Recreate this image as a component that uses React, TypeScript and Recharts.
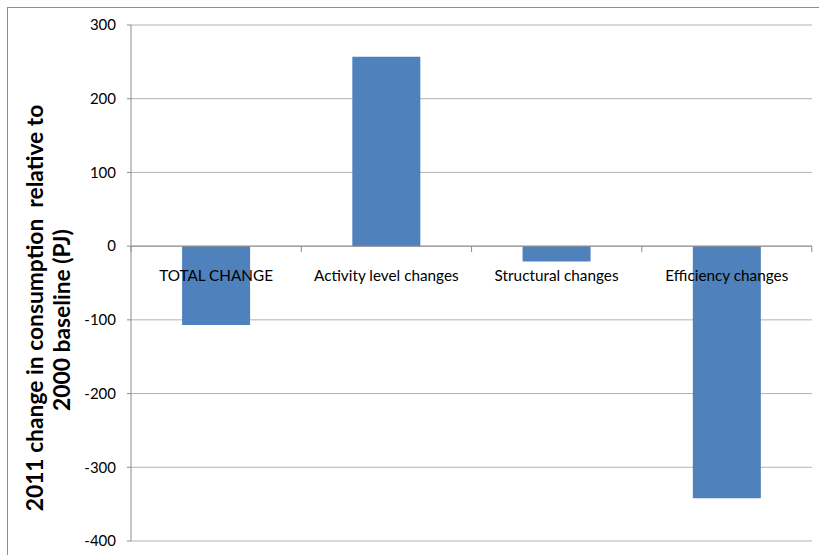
import React from "react";
import {
  Bar,
  BarChart,
  CartesianGrid,
  LabelList,
  ReferenceLine,
  XAxis,
  YAxis
} from "recharts";

const categories = [
  "TOTAL CHANGE",
  "Activity level changes",
  "Structural changes",
  "Efficiency changes"
];
const changes = [-107, 257, -21, -342];
const yTicks = [-400, -300, -200, -100, 0, 100, 200, 300];
const yLabelLines = ["2011 change in consumption  relative to", "2000 baseline (PJ)"];

const FONT = "Lato, 'Open Sans', sans-serif";
const GAP = 0.3;

const data = categories.map((name, i) => ({ name, value: changes[i] }));

// category names sit just under the zero line, with tick marks on band edges
const CategoryLabel = (props: any) => {
  const vb = props.viewBox || props;
  const { x, y, width, height } = vb;
  const cx = x + width / 2;
  const zeroY = y + height;
  const band = width / (1 - 2 * GAP);
  const last = props.index === categories.length - 1;
  return (
    <g>
      <line x1={cx - band / 2} x2={cx - band / 2} y1={zeroY} y2={zeroY + 6} stroke="#8c8c8c" />
      {last && (
        <line x1={cx + band / 2} x2={cx + band / 2} y1={zeroY} y2={zeroY + 6} stroke="#8c8c8c" />
      )}
      <text
        x={cx}
        y={zeroY + 35}
        textAnchor="middle"
        fontFamily={FONT}
        fontSize={15.3}
        fill="#000"
      >
        {props.value}
      </text>
    </g>
  );
};

const YTitle = () => (
  <g fontFamily={FONT} fontWeight="bold" fontSize={22.8} fill="#000">
    <text transform="translate(43, 308) rotate(-90)" textAnchor="middle" xmlSpace="preserve">
      {yLabelLines[0]}
    </text>
    <text transform="translate(70, 320) rotate(-90)" textAnchor="middle">
      {yLabelLines[1]}
    </text>
  </g>
);

const App = () => {
  return (
    <div
      style={{
        position: "absolute",
        left: 0,
        top: 0,
        width: 819,
        height: 555,
        overflow: "hidden",
        background: "#fff"
      }}
    >
      <div
        style={{
          position: "absolute",
          left: 7,
          top: 7,
          width: 830,
          height: 560,
          borderLeft: "1px solid #8e8e8e",
          borderTop: "1px solid #8e8e8e"
        }}
      />
      <div style={{ position: "absolute", left: 0, top: 0 }}>
        <BarChart
          width={819}
          height={555}
          data={data}
          margin={{ top: 25, right: 7, bottom: 14, left: 0 }}
          barCategoryGap={`${GAP * 100}%`}
        >
          <CartesianGrid vertical={false} stroke="#b3b3b3" />
          <XAxis dataKey="name" hide />
          <YAxis
            width={131}
            domain={[-400, 300]}
            ticks={yTicks}
            interval={0}
            axisLine={{ stroke: "#8c8c8c" }}
            tickLine={{ stroke: "#8c8c8c" }}
            tickSize={4}
            tickMargin={11}
            tick={{ fill: "#000", fontSize: 15, fontFamily: FONT }}
            label={{ content: () => <YTitle /> }}
          />
          <ReferenceLine y={0} stroke="#8c8c8c" />
          <Bar dataKey="value" fill="#4f81bd" isAnimationActive={false}>
            <LabelList dataKey="name" content={CategoryLabel} />
          </Bar>
        </BarChart>
      </div>
    </div>
  );
};

export default App;
